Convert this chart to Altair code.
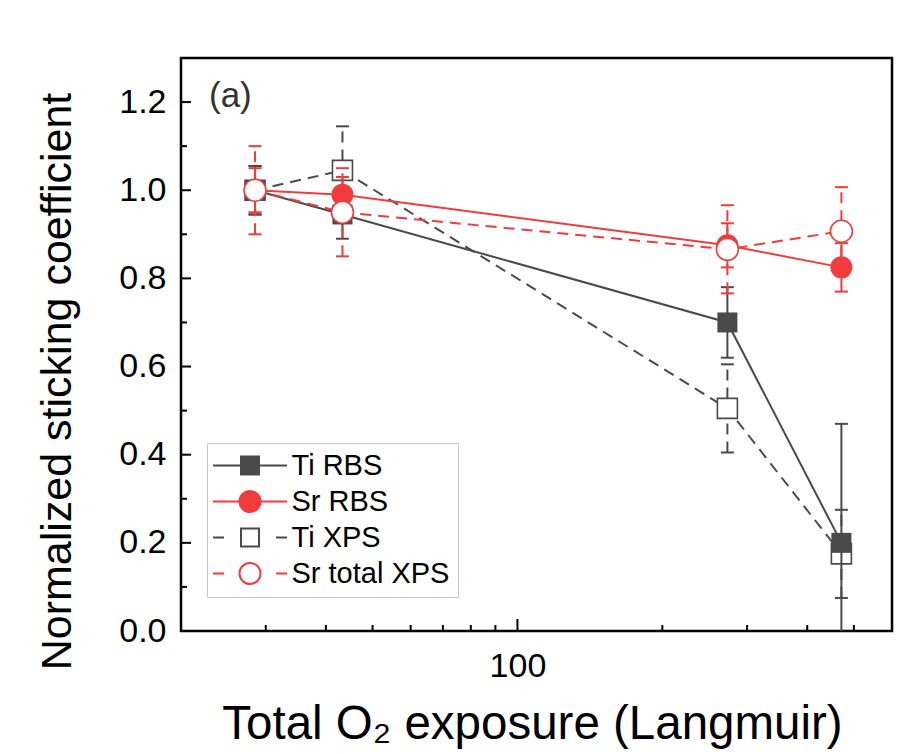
import altair as alt
import pandas as pd

# ---------------- data ----------------
exposure = [28.5, 43.3, 273.0, 471.0]          # Langmuir
series_names = ["Ti RBS", "Sr RBS", "Ti XPS", "Sr total XPS"]

ti_rbs = [1.00, 0.945, 0.700, 0.200]
ti_rbs_err = [0.055, 0.055, 0.080, 0.270]
sr_rbs = [1.00, 0.990, 0.875, 0.825]
sr_rbs_err = [0.050, 0.040, 0.050, 0.055]
ti_xps = [1.00, 1.045, 0.505, 0.175]
ti_xps_err = [0.055, 0.100, 0.100, 0.100]
sr_xps = [1.00, 0.950, 0.866, 0.907]
sr_xps_err = [0.100, 0.100, 0.100, 0.100]

y_major = [0.0, 0.2, 0.4, 0.6, 0.8, 1.0, 1.2]
y_minor = [0.1, 0.3, 0.5, 0.7, 0.9, 1.1]
x_major = [100]
x_minor = [30, 40, 50, 60, 70, 80, 90, 200, 300, 400, 500]

values = {"Ti RBS": (ti_rbs, ti_rbs_err), "Sr RBS": (sr_rbs, sr_rbs_err),
          "Ti XPS": (ti_xps, ti_xps_err), "Sr total XPS": (sr_xps, sr_xps_err)}

rows = []
for name in series_names:
    vals, errs = values[name]
    for xv, yv, ev in zip(exposure, vals, errs):
        rows.append({"series": name, "x": xv, "y": yv, "lo": yv - ev, "hi": yv + ev})
df = pd.DataFrame(rows)

# ---------------- styles ----------------
FONT = "Liberation Sans"
DARK = "#4a4a4a"
RED = "#f03c3c"
W, H = 711, 573
DASH = [11, 7]

styles = {
    "Ti RBS": dict(color=DARK, dashed=False, shape="square", filled=True, size=400,
                   path="M-3.7,0H3.7M-0.9,-0.9H0.9V0.9H-0.9Z"),
    "Sr RBS": dict(color=RED, dashed=False, shape="circle", filled=True, size=484,
                   path="M-3.7,0H3.7M-1.05,0A1.05,1.05,0,1,1,1.05,0A1.05,1.05,0,1,1,-1.05,0Z"),
    "Ti XPS": dict(color=DARK, dashed=True, shape="square", filled=False, size=400,
                   path="M-3.7,0H-2.6M2.6,0H3.7M-0.9,-0.9H0.9V0.9H-0.9Z"),
    "Sr total XPS": dict(color=RED, dashed=True, shape="circle", filled=False, size=484,
                         path="M-3.7,0H-2.6M2.6,0H3.7M-1.05,0A1.05,1.05,0,1,1,1.05,0A1.05,1.05,0,1,1,-1.05,0Z"),
}
draw_order = ["Ti XPS", "Ti RBS", "Sr RBS", "Sr total XPS"]

xs = alt.Scale(type="log", domain=[20, 600], nice=False)
ys = alt.Scale(domain=[0, 1.3], nice=False, zero=False)

x_axis = alt.Axis(values=x_major, format="d", ticks=False, tickSize=0, domain=False, grid=False,
                  labelFontSize=34, labelFont=FONT, labelColor="black", labelPadding=18,
                  title="Total O₂ exposure (Langmuir)", titleFont=FONT, titleFontSize=47.5,
                  titleFontWeight="normal", titleColor="black", titleX=351, titleY=107,
                  titleBaseline="alphabetic", titleAlign="center")
y_axis = alt.Axis(values=y_major, format=".1f", ticks=False, tickSize=0, domain=False, grid=False,
                  labelFontSize=34, labelFont=FONT, labelColor="black", labelPadding=15,
                  title="Normalized sticking coefficient", titleFont=FONT, titleFontSize=43,
                  titleFontWeight="normal", titleColor="black", titleX=-124, titleY=323,
                  titleAngle=270, titleBaseline="middle", titleAlign="center")


def X(field="x"):
    return alt.X(f"{field}:Q", scale=xs, axis=x_axis)


def Y(field="y"):
    return alt.Y(f"{field}:Q", scale=ys, axis=y_axis)


layers = []

# lines
for name in draw_order:
    st = styles[name]
    d = df[df.series == name]
    kw = dict(color=st["color"], strokeWidth=2)
    if st["dashed"]:
        kw["strokeDash"] = DASH
    layers.append(alt.Chart(d).mark_line(**kw).encode(x=X(), y=Y()))

# error bars + markers
for name in draw_order:
    st = styles[name]
    d = df[df.series == name]
    kw = dict(color=st["color"], strokeWidth=2, clip=True)
    if st["dashed"]:
        kw["strokeDash"] = DASH
    layers.append(alt.Chart(d).mark_rule(**kw).encode(x=X(), y=Y("lo"), y2="hi:Q"))
    for col in ["lo", "hi"]:
        layers.append(alt.Chart(d).mark_tick(orient="horizontal", color=st["color"], thickness=2,
                                             size=13, clip=True, opacity=1).encode(
            x=X(), y=Y(col)))
    if st["filled"]:
        pt = alt.Chart(d).mark_point(shape=st["shape"], filled=True, color=st["color"],
                                     size=st["size"], opacity=1, strokeWidth=0)
    else:
        pt = alt.Chart(d).mark_point(shape=st["shape"], filled=True, fill="white",
                                     stroke=st["color"], strokeWidth=1.6,
                                     size=st["size"], opacity=1)
    layers.append(pt.encode(x=X(), y=Y()))


# inward ticks (frame style)
def yticks(vals, length):
    return alt.Chart(pd.DataFrame({"v": vals})).mark_rule(color="black", strokeWidth=2).encode(
        y=Y("v"), x=alt.value(0), x2=alt.value(length))


def xticks(vals, length):
    return alt.Chart(pd.DataFrame({"v": vals})).mark_rule(color="black", strokeWidth=2).encode(
        x=X("v"), y=alt.value(H), y2=alt.value(H - length))


layers += [yticks(y_major, 10), yticks(y_minor, 6), xticks(x_major, 12), xticks(x_minor, 6)]

# panel label
layers.append(alt.Chart(pd.DataFrame({"t": ["(a)"]})).mark_text(
    align="left", baseline="middle", font=FONT, fontSize=35, color="#333333").encode(
    x=alt.value(28), y=alt.value(38), text="t:N"))

# legend layer (no marks drawn, only the legend)
legend = alt.Legend(
    title=None, orient="none", legendX=26, legendY=385,
    strokeColor="#c8c8c8", fillColor="white", padding=8, cornerRadius=0,
    labelFont=FONT, labelFontSize=29, labelColor="black", labelLimit=400,
    rowPadding=6, symbolOffset=20.5, labelOffset=27, symbolSize=400,
    symbolStrokeWidth=2, symbolOpacity=1,
    symbolFillColor="white", symbolStrokeColor="black",
)
layers.append(alt.Chart(df).transform_filter("false").mark_point(opacity=1, strokeWidth=2).encode(
    x=X(), y=Y(),
    shape=alt.Shape("series:N", scale=alt.Scale(domain=series_names,
                                                 range=[styles[n]["path"] for n in series_names]),
                    legend=legend),
    fill=alt.Fill("series:N", scale=alt.Scale(domain=series_names,
                                               range=[styles[n]["color"] if styles[n]["filled"] else "white"
                                                      for n in series_names]),
                  legend=legend),
    stroke=alt.Stroke("series:N", scale=alt.Scale(domain=series_names,
                                                   range=[styles[n]["color"] for n in series_names]),
                      legend=legend),
))

chart = alt.layer(*layers).properties(
    width=W, height=H,
    autosize=alt.AutoSizeParams(type="none"),
    padding={"left": 181, "top": 58, "right": 20, "bottom": 123},
).configure_view(stroke="black", strokeWidth=2.5)

chart.save("out.html", embed_options={"renderer": "svg", "actions": False})
